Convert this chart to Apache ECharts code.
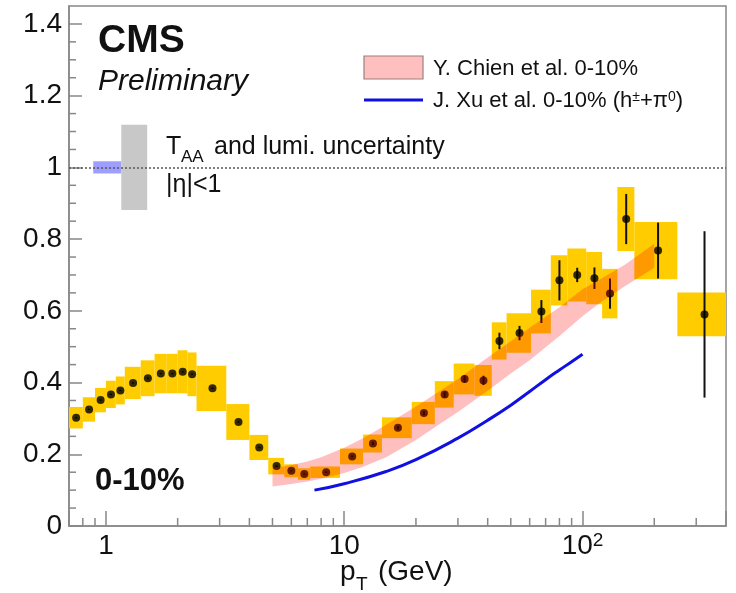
<!DOCTYPE html>
<html>
<head>
<meta charset="utf-8">
<script src="https://cdn.jsdelivr.net/npm/echarts/dist/echarts.min.js"></script>
<style>
html,body{margin:0;padding:0;background:#fff;}
#chart{width:736px;height:593px;}
</style>
</head>
<body>
<div id="chart"></div>
<script>
// ---- CMS data: bin edges, centres, R_AA, stat and sys uncertainties ----
const binLow  = [0.7,0.8,0.9,1.0,1.1,1.2,1.4,1.6,1.8,2.0,2.2,2.4,3.2,4.0,4.8,5.6,6.4,7.2,9.6,12.0,14.4,19.2,24.0,28.8,35.2,41.6,48.0,60.8,73.6,86.4,103.6,120.8,140,165,250];
const binHigh = [0.8,0.9,1.0,1.1,1.2,1.4,1.6,1.8,2.0,2.2,2.4,3.2,4.0,4.8,5.6,6.4,7.2,9.6,12.0,14.4,19.2,24.0,28.8,35.2,41.6,48.0,60.8,73.6,86.4,103.6,120.8,140,165,250,400];
const ptCenter = [0.75,0.85,0.95,1.05,1.15,1.3,1.5,1.7,1.9,2.1,2.3,2.8,3.6,4.4,5.2,6.0,6.8,8.4,10.8,13.2,16.8,21.6,26.4,32.0,38.4,44.8,54.4,67.2,80.0,95.0,112.2,130.4,152.5,207.5,325];
const raa = [0.302,0.325,0.351,0.367,0.378,0.399,0.412,0.425,0.425,0.430,0.423,0.384,0.290,0.219,0.167,0.154,0.145,0.150,0.194,0.230,0.274,0.315,0.367,0.410,0.406,0.516,0.538,0.598,0.685,0.700,0.691,0.648,0.856,0.768,0.590];
const sysErr = [0.030,0.034,0.034,0.038,0.039,0.045,0.050,0.055,0.055,0.060,0.061,0.063,0.050,0.035,0.023,0.018,0.016,0.016,0.022,0.025,0.029,0.031,0.037,0.043,0.043,0.052,0.055,0.061,0.070,0.074,0.073,0.069,0.089,0.080,0.061];
const statErr = [0.002,0.002,0.002,0.002,0.002,0.002,0.002,0.002,0.002,0.002,0.002,0.002,0.002,0.002,0.002,0.002,0.002,0.002,0.003,0.004,0.005,0.006,0.008,0.010,0.013,0.023,0.020,0.032,0.056,0.020,0.030,0.042,0.070,0.078,0.232];

// ---- Theory: Y. Chien et al. band ----
const chienPt   = [5, 6, 7, 8, 10, 12, 15, 20, 25, 30, 40, 50, 60, 80, 100, 120, 150, 200];
const chienHigh = [0.160,0.170,0.180,0.192,0.218,0.245,0.282,0.333,0.375,0.410,0.470,0.515,0.553,0.610,0.660,0.690,0.728,0.787];
const chienLow  = [0.110,0.117,0.124,0.132,0.148,0.165,0.192,0.240,0.283,0.318,0.377,0.425,0.462,0.530,0.585,0.625,0.668,0.720];

// ---- Theory: J. Xu et al. curve ----
const xuPt  = [7.5, 10, 15, 20, 30, 40, 50, 60, 70, 80, 90, 100];
const xuRaa = [0.100,0.118,0.152,0.185,0.245,0.295,0.337,0.375,0.408,0.435,0.458,0.479];

// ---- Normalisation uncertainty boxes at R_AA = 1 (lumi, T_AA) ----
const normLow  = [0.885, 1.16];
const normHigh = [1.16, 1.49];
const normHalf = [0.017, 0.119];

// ---- axis ticks ----
const xTickValues = [1, 10, 100];
const xTickText   = ['1', '10', '10{sup|2}'];
const xMinorTicks = [0.8,0.9,2,3,4,5,6,7,8,9,20,30,40,50,60,70,80,90,200,300];
const yMinorTicks = [0.05,0.1,0.15,0.25,0.3,0.35,0.45,0.5,0.55,0.65,0.7,0.75,0.85,0.9,0.95,1.05,1.1,1.15,1.25,1.3,1.35];

const FONT = '"Liberation Sans", Arial, Helvetica, sans-serif';
const AXC = '#888';
const TXT = '#111';

const chart = echarts.init(document.getElementById('chart'), null, {renderer: 'canvas'});

const option = {
  animation: false,
  backgroundColor: '#fff',
  grid: {left: 69, right: 10, top: 6, bottom: 67, show: true, borderColor: AXC, borderWidth: 1.5, backgroundColor: 'transparent'},
  xAxis: {
    type: 'log', logBase: 10, min: 0.7, max: 400,
    axisLine: {show: true, lineStyle: {color: AXC, width: 1.5}},
    axisTick: {show: true, inside: true, length: 15, lineStyle: {color: AXC, width: 1.5}},
    splitLine: {show: false},
    axisLabel: {
      margin: 5, color: TXT, fontSize: 28, fontFamily: FONT, lineHeight: 30,
      formatter: function (v) {
        for (let i = 0; i < xTickValues.length; i++) {
          if (Math.abs(v - xTickValues[i]) / xTickValues[i] < 1e-6) return xTickText[i];
        }
        return '';
      },
      rich: {sup: {fontSize: 19, fontFamily: FONT, color: TXT, verticalAlign: 'top', lineHeight: 30, padding: [0, 0, 12, 0]}}
    }
  },
  yAxis: {
    type: 'value', min: 0, max: 1.45, interval: 0.2,
    axisLine: {show: true, lineStyle: {color: AXC, width: 1.5}},
    axisTick: {show: true, inside: true, length: 13, lineStyle: {color: AXC, width: 1.5}},
    splitLine: {show: false},
    axisLabel: {margin: 7, color: TXT, fontSize: 28, fontFamily: FONT, showMaxLabel: false}
  },
  series: [
    { // minor x ticks
      type: 'custom', z: 1, silent: true, clip: false,
      data: xMinorTicks.map(v => [v, 0]),
      renderItem: function (params, api) {
        const p = api.coord([api.value(0), 0]);
        return {type: 'line', shape: {x1: p[0], y1: p[1], x2: p[0], y2: p[1] - 8}, style: {stroke: AXC, lineWidth: 1.5}};
      }
    },
    { // minor y ticks
      type: 'custom', z: 1, silent: true, clip: false,
      data: yMinorTicks.map(v => [0.7, v]),
      renderItem: function (params, api) {
        const p = api.coord([0.7, api.value(1)]);
        return {type: 'line', shape: {x1: p[0], y1: p[1], x2: p[0] + 7, y2: p[1]}, style: {stroke: AXC, lineWidth: 1.5}};
      }
    },
    { // normalisation boxes
      type: 'custom', z: 1, silent: true,
      data: normLow.map((lo, i) => [lo, normHigh[i], 1, normHalf[i]]),
      encode: {x: [0, 1], y: 2},
      renderItem: function (params, api) {
        const a = api.coord([api.value(0), api.value(2) + api.value(3)]);
        const b = api.coord([api.value(1), api.value(2) - api.value(3)]);
        const fill = params.dataIndex === 0 ? 'rgba(40,40,255,0.45)' : '#c8c8c8';
        return {type: 'rect', shape: {x: a[0], y: a[1], width: b[0] - a[0], height: b[1] - a[1]}, style: {fill: fill}};
      }
    },
    { // systematic boxes
      type: 'custom', z: 2, silent: true,
      data: binLow.map((lo, i) => [lo, binHigh[i], raa[i], sysErr[i]]),
      encode: {x: [0, 1], y: 2},
      renderItem: function (params, api) {
        const a = api.coord([api.value(0), api.value(2) + api.value(3)]);
        const b = api.coord([api.value(1), api.value(2) - api.value(3)]);
        return {type: 'rect', shape: {x: a[0], y: a[1], width: b[0] - a[0], height: b[1] - a[1]}, style: {fill: '#ffcc00'}};
      }
    },
    { // stat error bars
      type: 'custom', z: 3, silent: true,
      data: ptCenter.map((x, i) => [x, raa[i] - statErr[i], raa[i] + statErr[i]]),
      encode: {x: 0, y: [1, 2]},
      renderItem: function (params, api) {
        const a = api.coord([api.value(0), api.value(1)]);
        const b = api.coord([api.value(0), api.value(2)]);
        return {type: 'line', shape: {x1: a[0], y1: a[1], x2: b[0], y2: b[1]}, style: {stroke: '#111', lineWidth: 2}};
      }
    },
    { // data points
      type: 'scatter', z: 3, silent: true,
      symbol: 'circle', symbolSize: 8,
      itemStyle: {color: '#000'},
      data: ptCenter.map((x, i) => [x, raa[i]]),
      markLine: {
        silent: true, symbol: ['none', 'none'], label: {show: false},
        lineStyle: {color: '#555', type: [2, 2], width: 1.5},
        data: [{yAxis: 1}]
      }
    },
    { // Y. Chien band
      type: 'custom', z: 4, silent: true,
      data: [[chienPt[0], chienLow[0]]],
      renderItem: function (params, api) {
        const pts = [];
        for (let i = 0; i < chienPt.length; i++) pts.push(api.coord([chienPt[i], chienHigh[i]]));
        for (let i = chienPt.length - 1; i >= 0; i--) pts.push(api.coord([chienPt[i], chienLow[i]]));
        return {type: 'polygon', shape: {points: pts}, style: {fill: 'rgba(255,0,0,0.25)'}};
      }
    },
    { // J. Xu curve
      type: 'line', z: 5, silent: true, smooth: true, showSymbol: false,
      lineStyle: {color: '#1010e0', width: 3},
      data: xuPt.map((x, i) => [x, xuRaa[i]])
    }
  ],
  graphic: [
    {type: 'text', silent: true, style: {text: 'CMS', x: 98, y: 41, fontSize: 39, fontWeight: 'bold', fontFamily: FONT, fill: TXT, align: 'left', verticalAlign: 'middle'}},
    {type: 'text', silent: true, style: {text: 'Preliminary', x: 98, y: 82, fontSize: 30, fontStyle: 'italic', fontFamily: FONT, fill: TXT, align: 'left', verticalAlign: 'middle'}},
    // legend
    {type: 'rect', silent: true, shape: {x: 364, y: 56, width: 59, height: 23}, style: {fill: 'rgba(255,0,0,0.25)', stroke: '#9a7f7f', lineWidth: 1.2}},
    {type: 'text', silent: true, style: {text: 'Y. Chien et al. 0-10%', x: 433, y: 69, fontSize: 22, fontFamily: FONT, fill: TXT, align: 'left', verticalAlign: 'middle'}},
    {type: 'line', silent: true, shape: {x1: 364, y1: 100, x2: 423, y2: 100}, style: {stroke: '#1010e0', lineWidth: 3}},
    {type: 'text', silent: true, style: {
      text: 'J. Xu et al. 0-10% (h{sup|±}+π{sup|0})', x: 433, y: 101, fontSize: 22, fontFamily: FONT, fill: TXT, align: 'left', verticalAlign: 'middle',
      rich: {sup: {fontSize: 14, fontFamily: FONT, fill: TXT, verticalAlign: 'top', lineHeight: 22}}
    }},
    // normalisation label
    {type: 'text', silent: true, style: {text: 'T', x: 166, y: 147, fontSize: 25, fontFamily: FONT, fill: TXT, align: 'left', verticalAlign: 'middle'}},
    {type: 'text', silent: true, style: {text: 'AA', x: 181, y: 157, fontSize: 17, fontFamily: FONT, fill: TXT, align: 'left', verticalAlign: 'middle'}},
    {type: 'text', silent: true, style: {text: 'and lumi. uncertainty', x: 214, y: 147, fontSize: 25, fontFamily: FONT, fill: TXT, align: 'left', verticalAlign: 'middle'}},
    {type: 'text', silent: true, style: {text: '|η|<1', x: 166, y: 185, fontSize: 25, fontFamily: FONT, fill: TXT, align: 'left', verticalAlign: 'middle'}},
    // centrality
    {type: 'text', silent: true, style: {text: '0-10%', x: 95, y: 481, fontSize: 31, fontWeight: 'bold', fontFamily: FONT, fill: TXT, align: 'left', verticalAlign: 'middle'}},
    // x axis title
    {type: 'text', silent: true, style: {text: 'p', x: 340, y: 572, fontSize: 28, fontFamily: FONT, fill: TXT, align: 'left', verticalAlign: 'middle'}},
    {type: 'text', silent: true, style: {text: 'T', x: 356, y: 585, fontSize: 19, fontFamily: FONT, fill: TXT, align: 'left', verticalAlign: 'middle'}},
    {type: 'text', silent: true, style: {text: '(GeV)', x: 378, y: 572, fontSize: 28, fontFamily: FONT, fill: TXT, align: 'left', verticalAlign: 'middle'}}
  ]
};

chart.setOption(option);
</script>
</body>
</html>
